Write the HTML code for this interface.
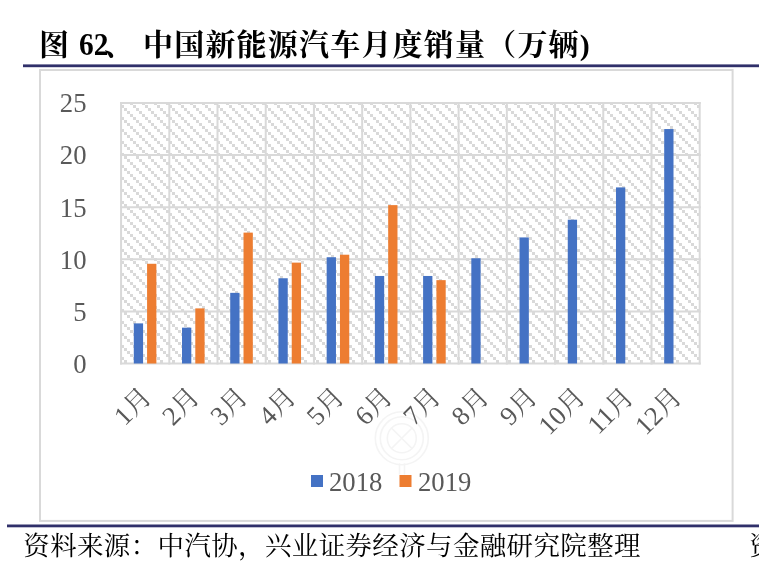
<!DOCTYPE html>
<html lang="zh-CN">
<head>
<meta charset="utf-8">
<title>图 62、中国新能源汽车月度销量（万辆)</title>
<style>
html,body{margin:0;padding:0;background:#fff;}
body{width:759px;height:574px;overflow:hidden;position:relative;font-family:"Liberation Serif","Noto Serif CJK SC",serif;}
.art{position:absolute;left:0;top:0;display:block;will-change:transform;}
/* real text layer (kept in the DOM for selection / accessibility) */
.txt{position:absolute;margin:0;white-space:nowrap;color:transparent;font-weight:normal;font-family:"Liberation Serif","Noto Serif CJK SC",serif;}
h1.txt{left:40px;top:27px;font-size:30px;line-height:34px;letter-spacing:1.2px;font-weight:bold;}
p.txt{left:25px;top:531px;font-size:26.5px;line-height:30px;}
</style>
</head>
<body>
<svg class="art" width="759" height="574" viewBox="0 0 759 574">
<defs>
<pattern id="hatch" patternUnits="userSpaceOnUse" x="4" y="0" width="12" height="12"><g fill="#d9d9d9" shape-rendering="crispEdges"><rect x="0" y="0" width="3" height="3"/><rect x="3" y="3" width="3" height="3"/><rect x="6" y="6" width="3" height="3"/><rect x="9" y="9" width="3" height="3"/></g></pattern>
</defs>
<rect x="23" y="64.4" width="759" height="2.8" fill="#30306a"/>
<rect x="7" y="524.5" width="759" height="2.8" fill="#30306a"/>
<rect x="40" y="70" width="692.6" height="450.9" fill="#fff" stroke="#d9d9d9" stroke-width="2"/>
<g class="wm" fill="none" stroke="#f4f4f4" stroke-width="1.6" stroke-linecap="round"><circle cx="401.8" cy="438.3" r="26.5"/><circle cx="401.8" cy="438.3" r="21.5"/><circle cx="401.8" cy="438.3" r="14.5"/><path d="M391.5 428 L412 448.5 M412 428 L391.5 448.5 M399.5 464 V474 M404.5 464 V474"/></g>
<rect x="121.07" y="103" width="578.64" height="260.5" fill="url(#hatch)"/>
<g stroke="#d9d9d9" stroke-width="2"><line x1="120.07" x2="700.71" y1="103.0" y2="103.0"/><line x1="120.07" x2="700.71" y1="155.1" y2="155.1"/><line x1="120.07" x2="700.71" y1="207.2" y2="207.2"/><line x1="120.07" x2="700.71" y1="259.3" y2="259.3"/><line x1="120.07" x2="700.71" y1="311.4" y2="311.4"/><line x1="120.07" x2="700.71" y1="363.5" y2="363.5"/><line x1="121.07" x2="121.07" y1="102" y2="364.5"/><line x1="169.29" x2="169.29" y1="102" y2="364.5"/><line x1="217.51" x2="217.51" y1="102" y2="364.5"/><line x1="265.73" x2="265.73" y1="102" y2="364.5"/><line x1="313.95" x2="313.95" y1="102" y2="364.5"/><line x1="362.17" x2="362.17" y1="102" y2="364.5"/><line x1="410.39" x2="410.39" y1="102" y2="364.5"/><line x1="458.61" x2="458.61" y1="102" y2="364.5"/><line x1="506.83" x2="506.83" y1="102" y2="364.5"/><line x1="555.05" x2="555.05" y1="102" y2="364.5"/><line x1="603.27" x2="603.27" y1="102" y2="364.5"/><line x1="651.49" x2="651.49" y1="102" y2="364.5"/><line x1="699.71" x2="699.71" y1="102" y2="364.5"/></g>
<g><rect x="133.78" y="323.38" width="9.3" height="40.12" fill="#4472c4"/><rect x="182.00" y="327.66" width="9.3" height="35.84" fill="#4472c4"/><rect x="230.22" y="292.85" width="9.3" height="70.65" fill="#4472c4"/><rect x="278.44" y="278.26" width="9.3" height="85.24" fill="#4472c4"/><rect x="326.66" y="257.22" width="9.3" height="106.28" fill="#4472c4"/><rect x="374.88" y="275.97" width="9.3" height="87.53" fill="#4472c4"/><rect x="423.10" y="275.97" width="9.3" height="87.53" fill="#4472c4"/><rect x="471.32" y="258.26" width="9.3" height="105.24" fill="#4472c4"/><rect x="519.54" y="237.42" width="9.3" height="126.08" fill="#4472c4"/><rect x="567.76" y="219.70" width="9.3" height="143.80" fill="#4472c4"/><rect x="615.98" y="187.40" width="9.3" height="176.10" fill="#4472c4"/><rect x="664.20" y="129.05" width="9.3" height="234.45" fill="#4472c4"/><rect x="147.08" y="263.78" width="9.3" height="99.72" fill="#ed7d31"/><rect x="195.30" y="308.38" width="9.3" height="55.12" fill="#ed7d31"/><rect x="243.52" y="232.62" width="9.3" height="130.88" fill="#ed7d31"/><rect x="291.74" y="262.63" width="9.3" height="100.87" fill="#ed7d31"/><rect x="339.96" y="254.72" width="9.3" height="108.78" fill="#ed7d31"/><rect x="388.18" y="205.12" width="9.3" height="158.38" fill="#ed7d31"/><rect x="436.40" y="280.14" width="9.3" height="83.36" fill="#ed7d31"/></g>
<g class="yaxis" font-family="'Liberation Serif', 'Noto Serif CJK SC', serif" font-size="26.7" fill="#595959"><text x="86.50" y="112.30" text-anchor="end">25</text><text x="86.50" y="164.40" text-anchor="end">20</text><text x="86.50" y="216.50" text-anchor="end">15</text><text x="86.50" y="268.60" text-anchor="end">10</text><text x="86.50" y="320.70" text-anchor="end">5</text><text x="86.50" y="372.80" text-anchor="end">0</text></g>
<g class="xaxis" font-family="'Liberation Serif', 'Noto Serif CJK SC', serif" font-size="26.7" fill="#595959"><g transform="translate(153.00 398.5) rotate(-45)"><text x="0.00" y="0.00" text-anchor="end">1月</text></g><g transform="translate(201.22 398.5) rotate(-45)"><text x="0.00" y="0.00" text-anchor="end">2月</text></g><g transform="translate(249.44 398.5) rotate(-45)"><text x="0.00" y="0.00" text-anchor="end">3月</text></g><g transform="translate(297.66 398.5) rotate(-45)"><text x="0.00" y="0.00" text-anchor="end">4月</text></g><g transform="translate(345.88 398.5) rotate(-45)"><text x="0.00" y="0.00" text-anchor="end">5月</text></g><g transform="translate(394.10 398.5) rotate(-45)"><text x="0.00" y="0.00" text-anchor="end">6月</text></g><g transform="translate(442.32 398.5) rotate(-45)"><text x="0.00" y="0.00" text-anchor="end">7月</text></g><g transform="translate(490.54 398.5) rotate(-45)"><text x="0.00" y="0.00" text-anchor="end">8月</text></g><g transform="translate(538.76 398.5) rotate(-45)"><text x="0.00" y="0.00" text-anchor="end">9月</text></g><g transform="translate(586.98 398.5) rotate(-45)"><text x="0.00" y="0.00" text-anchor="end">10月</text></g><g transform="translate(635.20 398.5) rotate(-45)"><text x="0.00" y="0.00" text-anchor="end">11月</text></g><g transform="translate(683.42 398.5) rotate(-45)"><text x="0.00" y="0.00" text-anchor="end">12月</text></g></g>
<rect x="311" y="475" width="12" height="12" fill="#4472c4"/>
<rect x="399.5" y="475" width="12" height="12" fill="#ed7d31"/>
<g class="legend" font-family="'Liberation Serif', 'Noto Serif CJK SC', serif" font-size="26.7" fill="#595959"><text x="329.00" y="490.50" text-anchor="start">2018</text><text x="418.00" y="490.50" text-anchor="start">2019</text></g>
<g fill="#000" font-family="'Liberation Serif', 'Noto Serif CJK SC', serif" font-weight="bold" font-size="30"><text x="39" y="54.5">图</text><text x="104" y="54.5">、</text><text x="143" y="54.5" letter-spacing="1.2">中国新能源汽车月度销量（万辆)</text></g>
<text x="79" y="54.6" font-family="'Liberation Serif', 'Noto Serif CJK SC', serif" font-weight="bold" font-size="32" transform="translate(79 0) scale(0.92 1) translate(-79 0)" fill="#000">62</text>
<g fill="#000" font-family="'Liberation Serif', 'Noto Serif CJK SC', serif" font-size="26.5"><text x="23.3" y="555.4" letter-spacing="0.35">资料来源：中汽协，兴业证券经济与金融研究院整理</text><text x="749.3" y="555.4">资</text></g>
</svg>
<h1 class="txt">图 62、中国新能源汽车月度销量（万辆)</h1>
<p class="txt">资料来源：中汽协，兴业证券经济与金融研究院整理</p>
</body>
</html>
